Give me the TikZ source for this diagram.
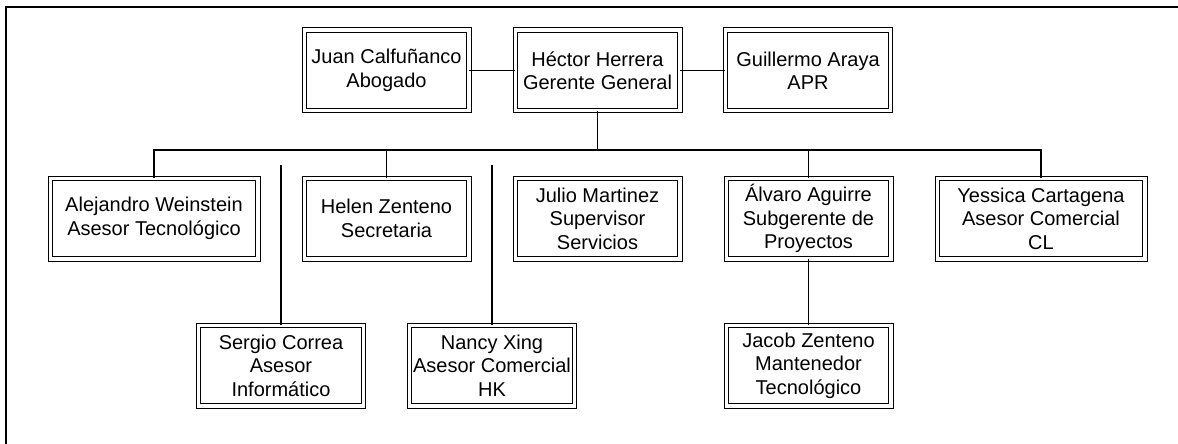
\documentclass[tikz,border=0pt]{standalone}
\usepackage{fontspec}
\setmainfont{Liberation Sans}
\begin{document}
\begin{tikzpicture}[x=0.5pt, y=-0.5pt, line width=0.75pt,
	cargo/.style={draw, double, double distance=1.7pt, line width=0.5pt, align=center, inner sep=0pt,
		minimum width=82.3pt, minimum height=40.3pt, font=\fontsize{10}{11.7}\selectfont},
	ancho/.style={cargo, minimum width=103.8pt}]
				\useasboundingbox (0,0) rectangle (1178,444);
				\draw[line width=1pt] (6,444) -- (6,7.5) -- (1178,7.5);
				\node[cargo] (juan) at (386.5,70.5) {Juan Calfuñanco\\Abogado};
				\node[cargo] (hector) at (597.5,70.5) {Héctor Herrera\\Gerente General};
				\node[cargo] (guillermo) at (808,70.5) {Guillermo Araya\\APR};
				\node[ancho] (alejandro) at (154,218.5) {Alejandro Weinstein\\Asesor Tecnológico};
				\node[cargo] (helen) at (386.5,218.5) {Helen Zenteno\\Secretaria};
				\node[cargo] (julio) at (597.5,218.5) {Julio Martinez\\Supervisor\\Servicios};
				\node[cargo] (alvaro) at (808.5,218.5) {Álvaro Aguirre\\Subgerente de\\Proyectos};
				\node[ancho] (yessica) at (1041,218.5) {Yessica Cartagena\\Asesor Comercial\\CL};
				\node[cargo] (sergio) at (281,365.5) {Sergio Correa\\Asesor\\Informático};
				\node[cargo] (nancy) at (492,365.5) {Nancy Xing\\Asesor Comercial\\HK};
				\node[cargo] (jacob) at (808.5,365.5) {Jacob Zenteno\\Mantenedor\\Tecnológico};
				\coordinate (bus) at (0,150);
				\coordinate (corte) at (0,165);
				\draw (juan) -- (hector);
				\draw (hector) -- (guillermo);
				\draw (hector.south) -- (hector |- bus);
				\draw (alejandro.north) |- (bus -| yessica) -- (yessica.north);
				\draw (helen.north) -- (helen |- bus);
				\draw (alvaro.north) -- (alvaro |- bus);
				\draw (sergio.north) -- (sergio |- corte);
				\draw (nancy.north) -- (nancy |- corte);
				\draw (alvaro) -- (jacob);
			\end{tikzpicture}
\end{document}
